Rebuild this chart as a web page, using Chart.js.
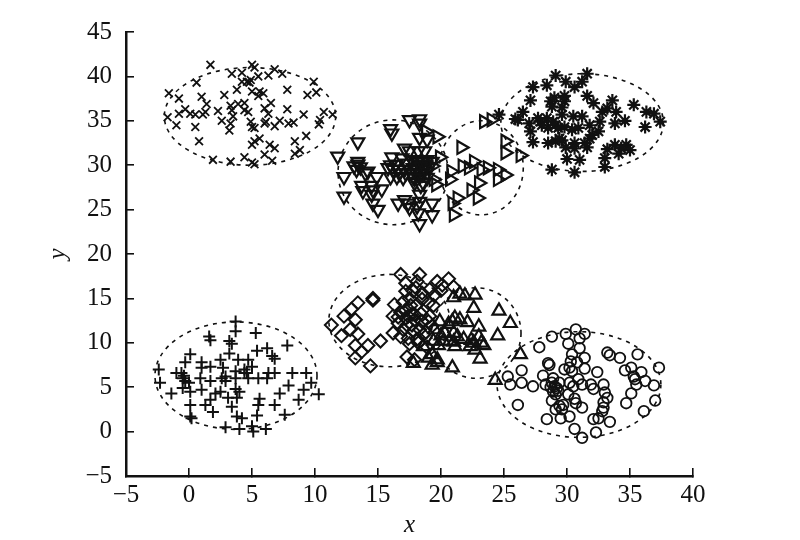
<!DOCTYPE html>
<html>
<head>
<meta charset="utf-8">
<title>Clusters</title>
<script src="https://cdn.jsdelivr.net/npm/chart.js@4"></script>
<style>
  html, body { margin: 0; padding: 0; background: #fff; }
  #wrap { width: 800px; height: 540px; }
</style>
</head>
<body>
<div id="wrap"><canvas id="myChart" width="800" height="540"></canvas></div>
<script>
const xTicks = [-5, 0, 5, 10, 15, 20, 25, 30, 35, 40]
const yTicks = [-5, 0, 5, 10, 15, 20, 25, 30, 35, 40, 45]

// x marks, top left cluster
const timesPoints = [
  [1.7,41.3],[5.0,41.3],[5.2,41.0],[3.4,40.3],[4.2,40.4],[5.5,40.0],[6.3,40.1],[6.8,40.8],[7.4,40.3],[0.6,39.3],
  [4.2,39.4],[4.6,39.4],[4.9,39.6],[4.8,39.3],[9.9,39.4],[7.8,38.5],[3.8,38.5],[5.0,38.3],[5.6,38.3],[5.9,38.1],
  [5.5,37.8],[9.4,37.9],[10.1,38.2],[-1.6,38.1],[-0.8,37.5],[1.0,37.7],[2.8,37.9],[1.4,36.9],[4.4,37.0],[3.9,36.9],
  [3.3,36.7],[6.5,37.0],[6.0,36.4],[-0.3,36.3],[-0.8,35.8],[0.1,35.8],[0.5,35.7],[1.1,35.7],[1.3,36.0],[2.3,36.1],
  [3.4,36.2],[3.5,35.5],[4.4,36.2],[4.7,36.0],[6.3,35.8],[7.8,36.3],[10.7,36.0],[11.4,35.7],[9.1,35.7],[-1.7,35.4],
  [-1.0,34.5],[2.6,35.0],[3.3,34.7],[3.2,33.9],[0.5,34.3],[4.9,34.9],[5.0,34.3],[5.2,34.2],[6.1,34.9],[6.0,34.7],
  [6.8,34.4],[7.2,35.0],[7.9,34.7],[8.3,34.8],[10.4,35.1],[10.3,34.6],[0.8,32.7],[9.3,33.3],[5.6,33.0],[5.2,32.7],
  [5.0,32.3],[6.4,32.3],[6.8,31.9],[8.4,32.7],[8.8,31.7],[8.4,31.3],[6.0,31.2],[1.9,30.6],[3.3,30.4],[4.4,30.9],
  [5.0,30.3],[5.2,30.1],[6.6,30.5]
]

const downPoints = [
  [17.5,35.1],[18.3,35.2],[18.3,34.7],[16.0,34.1],[16.1,33.6],[13.4,32.6],[18.3,33.1],[18.9,32.9],[11.8,31.0],[13.4,30.4],
  [13.4,30.1],[13.1,29.9],[13.3,29.5],[14.2,29.3],[12.3,28.7],[14.9,28.7],[12.3,26.5],[16.1,30.9],[17.1,31.9],[17.5,31.6],
  [18.2,31.6],[18.7,31.6],[19.3,30.4],[16.9,30.8],[15.8,29.7],[16.2,29.5],[16.6,29.5],[17.1,29.5],[17.7,30.6],[18.1,30.4],
  [18.5,30.4],[18.9,30.6],[17.8,29.7],[18.1,29.5],[18.5,29.5],[18.7,29.5],[19.0,29.7],[16.0,28.7],[16.5,28.7],[17.0,28.6],
  [17.8,28.7],[18.3,28.7],[18.9,28.6],[17.9,28.0],[18.6,28.0],[13.7,27.7],[14.5,27.7],[13.8,27.1],[14.6,27.2],[15.3,27.3],
  [14.5,26.7],[14.6,25.7],[15.0,25.0],[16.6,25.7],[17.4,25.7],[17.5,25.2],[18.3,26.7],[18.3,25.9],[17.1,26.1],[18.1,25.4],
  [19.3,25.7],[18.2,24.6],[19.3,24.4],[18.3,23.4],[17.3,30.2],[17.9,30.1],[18.4,29.9],[18.8,30.1],[17.6,29.2],[18.0,29.1],
  [18.5,29.0],[18.9,29.2],[17.9,28.5],[18.4,27.7],[16.4,30.1],[16.0,30.0],[17.2,29.1],[16.7,29.1],[13.6,29.8],[14.0,29.1]
]

const rightPoints = [
  [23.4,34.9],[24.0,35.1],[18.8,33.8],[19.7,33.2],[21.6,32.0],[25.1,32.7],[25.1,31.4],[26.3,31.1],[19.9,30.9],[19.3,29.9],
  [19.4,28.4],[19.6,27.8],[22.6,30.4],[20.8,29.3],[20.7,28.4],[21.7,29.9],[22.2,29.7],[23.2,29.5],[23.7,29.7],[24.5,29.5],
  [25.1,28.9],[24.5,28.4],[23.0,28.0],[22.4,27.2],[22.9,26.3],[21.3,26.3],[20.9,25.7],[21.0,24.4]
]

const starPoints = [
  [31.6,40.3],[29.1,40.1],[29.9,39.4],[31.2,39.4],[30.6,38.8],[28.4,39.0],[27.3,38.8],[24.6,35.7],[27.1,37.3],[31.6,37.8],
  [32.1,37.0],[29.8,37.8],[28.7,37.2],[33.6,37.3],[35.3,36.8],[26.5,36.0],[26.1,35.1],[25.9,35.2],[27.0,34.7],[27.7,35.3],
  [28.5,34.2],[28.4,35.3],[29.6,35.7],[30.5,35.5],[31.2,35.5],[29.1,34.5],[29.8,34.3],[30.4,34.0],[30.9,34.2],[31.8,34.5],
  [32.6,34.9],[32.8,36.0],[33.2,36.4],[33.9,36.0],[33.8,34.7],[34.6,35.0],[36.3,36.0],[36.9,35.8],[37.4,34.9],[36.2,34.3],
  [32.5,33.8],[31.8,33.0],[27.1,33.8],[27.3,32.6],[28.5,32.5],[29.1,32.7],[29.6,32.8],[30.6,32.5],[31.6,32.0],[29.9,32.0],
  [30.6,31.9],[30.0,30.7],[31.0,30.6],[33.8,32.3],[33.2,31.8],[34.7,32.3],[35.0,31.7],[34.1,31.3],[33.0,30.8],[33.0,29.8],
  [28.8,29.5],[30.6,29.2],[28.8,36.6],[29.8,37.2],[29.3,34.2],[27.9,34.9],[28.0,34.5],[28.9,34.9],[29.4,33.0],[31.4,32.5],
  [32.0,33.4],[34.3,31.9],[29.6,36.5],[29.0,37.6]
]

const diamondPoints = [
  [16.8,17.7],[18.3,17.7],[17.2,16.7],[18.1,16.9],[20.6,17.2],[20.1,16.5],[17.2,15.8],[17.8,15.8],[19.1,16.0],[18.5,15.6],
  [19.5,15.4],[17.5,15.0],[18.1,14.3],[19.0,14.5],[14.6,14.8],[14.6,15.0],[13.4,14.5],[12.9,13.8],[12.3,13.0],[13.2,12.6],
  [11.3,12.0],[12.8,11.5],[12.1,10.8],[13.4,11.0],[16.3,14.3],[16.8,13.4],[17.2,12.8],[16.2,13.0],[16.6,12.2],[17.3,12.0],
  [17.9,12.6],[19.1,13.0],[18.3,11.5],[17.8,11.3],[16.2,11.1],[16.8,10.7],[17.4,10.5],[18.1,10.4],[18.6,10.9],[14.2,9.7],
  [15.2,10.2],[13.2,9.7],[13.7,9.0],[13.2,8.3],[17.3,8.4],[14.4,7.4],[18.2,10.0],[17.9,13.2],[17.2,13.7],[17.7,13.2],
  [17.6,14.2],[17.0,14.6],[18.5,14.9],[19.4,14.2],[18.4,13.3],[17.4,13.0],[18.5,12.4],[19.3,11.9],[17.0,11.5],[17.7,12.0],
  [18.8,11.2],[19.0,12.4],[16.6,12.9],[17.5,9.9],[18.9,9.5],[17.9,8.1],[20.0,15.9],[19.7,16.9],[21.0,16.3],[18.0,16.2]
]

const upPoints = [
  [21.5,15.5],[22.7,15.4],[21.0,15.1],[22.6,13.9],[24.6,13.6],[21.1,12.8],[19.9,12.4],[20.9,12.4],[22.1,12.3],[23.0,11.8],
  [25.5,12.2],[19.5,11.5],[20.3,11.1],[21.3,10.7],[23.0,10.7],[24.5,10.8],[20.2,10.2],[20.7,10.2],[19.4,10.2],[18.6,9.6],
  [22.6,10.0],[23.2,10.0],[21.1,9.6],[22.3,9.6],[22.7,9.2],[23.1,8.2],[26.3,8.7],[19.3,8.7],[19.7,8.1],[17.8,7.7],
  [19.3,7.5],[20.9,7.2],[24.3,5.8],[21.9,15.3],[20.6,12.1],[21.5,12.6],[20.0,10.8],[21.0,11.1],[19.8,9.7],[21.8,10.4],
  [22.4,10.3],[23.4,9.7],[21.0,10.1],[19.7,7.8],[19.0,8.3]
]

const circlePoints = [
  [30.7,11.5],[31.4,11.0],[29.9,11.0],[28.8,10.7],[27.8,9.5],[31.0,10.5],[30.1,9.9],[31.0,9.4],[30.4,8.7],[31.4,8.3],
  [33.2,8.9],[33.4,8.6],[34.2,8.3],[35.6,8.7],[37.3,7.2],[26.4,6.9],[28.5,7.7],[28.6,7.5],[30.2,7.2],[30.4,6.8],
  [31.4,7.1],[29.8,7.0],[32.4,6.7],[34.6,6.9],[35.1,7.2],[35.9,6.7],[35.3,6.2],[35.4,5.9],[36.2,5.7],[36.9,5.2],
  [35.5,5.3],[25.3,6.2],[25.5,5.3],[26.4,5.5],[27.3,5.1],[28.1,6.3],[28.3,5.3],[28.8,5.5],[29.2,4.9],[28.9,4.5],
  [29.4,5.5],[30.2,5.5],[30.5,5.1],[31.2,5.3],[31.9,5.3],[32.1,4.8],[32.9,5.3],[33.2,3.8],[32.9,3.3],[35.1,4.3],
  [34.7,3.2],[37.0,3.5],[36.1,2.3],[26.1,3.0],[28.8,3.5],[30.6,3.7],[31.2,2.7],[29.1,4.2],[29.7,3.0],[29.1,2.5],
  [29.6,2.5],[30.2,1.7],[28.4,1.4],[29.5,1.5],[32.8,2.3],[32.5,1.5],[32.1,1.4],[33.4,1.1],[30.6,0.3],[32.3,-0.1],
  [31.2,-0.7],[29.0,5.1],[28.7,5.0],[29.3,4.6],[28.9,6.0],[30.1,4.2],[30.9,5.9],[29.4,2.9],[30.3,7.9],[30.8,7.8],
  [30.7,3.2],[33.0,4.4],[32.9,2.7]
]

const plusPoints = [
  [3.7,12.4],[3.7,11.3],[5.3,11.1],[1.6,10.7],[1.7,10.3],[3.2,10.2],[3.4,9.9],[5.4,9.1],[6.2,9.4],[7.8,9.7],
  [3.2,8.8],[0.1,8.7],[-0.3,7.8],[1.0,7.8],[2.5,8.1],[3.9,8.1],[4.7,8.1],[6.6,8.5],[6.8,8.2],[5.0,7.3],
  [-2.4,7.0],[-1.0,6.6],[-0.6,6.6],[-0.5,6.0],[1.7,7.3],[1.0,7.2],[2.7,7.2],[3.7,6.8],[4.4,7.0],[4.6,6.6],
  [6.3,6.6],[6.8,6.6],[8.2,6.6],[9.3,6.6],[-2.3,5.5],[-0.3,5.7],[0.9,6.0],[2.6,6.0],[2.9,5.7],[3.7,6.0],
  [4.7,6.0],[5.5,6.0],[6.2,6.0],[1.7,5.7],[-0.5,4.9],[7.9,5.2],[9.7,5.5],[-1.4,4.3],[0.1,4.5],[1.0,4.7],
  [2.5,4.5],[2.1,4.3],[3.7,4.8],[4.0,4.5],[7.2,4.3],[9.1,4.7],[10.3,4.2],[3.8,3.8],[3.1,3.8],[1.7,3.6],
  [8.7,3.6],[0.1,3.0],[1.3,3.0],[5.6,3.7],[5.5,3.0],[6.8,3.0],[3.4,2.8],[1.9,2.2],[0.1,1.7],[0.2,1.5],
  [3.8,1.7],[5.4,1.8],[4.2,1.5],[7.6,1.9],[2.9,0.5],[4.0,0.3],[5.0,0.6],[5.1,0.0],[6.1,0.3],[-0.4,6.3],
  [0.0,5.5],[2.9,6.2],[4.4,6.6]
]

// dashed cluster outlines, in data units
const ellipseCx = [4.84, 16.2, 23.2, 31.2, 15.9, 22.8, 30.95, 3.73]
const ellipseCy = [35.5, 29.2, 29.7, 34.8, 12.5, 11.1, 5.3, 6.3]
const ellipseRx = [6.8, 4.37, 3.33, 6.45, 4.8, 3.55, 6.5, 6.43]
const ellipseRy = [5.5, 5.9, 5.3, 5.5, 5.2, 5.1, 5.95, 6.05]

const ink = '#111'

function series(points, pointStyle, pointRadius, pointBorderWidth, pointRotation){
    return {
        data: points.map(p => ({x: p[0], y: p[1]})),
        showLine: false,
        pointStyle,
        pointRadius,
        pointRotation: pointRotation || 0,
        borderWidth: pointBorderWidth,
        borderColor: ink,
        backgroundColor: 'rgba(0,0,0,0)',
        clip: false
    }
}

const minus = v => String(v).replace('-', '\u2212')

const ellipses = {
    id: 'ellipses',
    beforeDatasetsDraw(chart){
        const {ctx, scales: {x, y}} = chart
        ctx.save()
        ctx.strokeStyle = ink
        ctx.lineWidth = 1.6
        ctx.setLineDash([4, 5])
        ellipseCx.forEach((cx, i) => {
            const px = x.getPixelForValue(cx)
            const py = y.getPixelForValue(ellipseCy[i])
            const rx = x.getPixelForValue(cx + ellipseRx[i]) - px
            const ry = py - y.getPixelForValue(ellipseCy[i] + ellipseRy[i])
            ctx.beginPath()
            ctx.ellipse(px, py, rx, ry, 0, 0, Math.PI * 2)
            ctx.stroke()
        })
        ctx.restore()
    }
}

const tickFont = {family: '"Liberation Serif"', size: 25}
const titleFont = {family: '"Liberation Serif"', size: 25, style: 'italic'}

new Chart(document.getElementById('myChart'), {
    type: 'scatter',
    data: {
        datasets: [
            series(timesPoints, 'crossRot', 5.5, 1.8),
            series(downPoints, 'triangle', 7.5, 2.2, 180),
            series(rightPoints, 'triangle', 7.5, 2.2, 90),
            series(starPoints, 'star', 6.5, 2.2),
            series(diamondPoints, 'rectRot', 6.5, 2),
            series(upPoints, 'triangle', 7.5, 2.2),
            series(circlePoints, 'circle', 5.3, 1.8),
            series(plusPoints, 'cross', 6, 2)
        ]
    },
    options: {
        responsive: false,
        animation: false,
        layout: {padding: {top: 32, right: 107, left: 0, bottom: 0}},
        plugins: {legend: {display: false}, tooltip: {enabled: false}},
        scales: {
            x: {
                type: 'linear',
                min: xTicks[0],
                max: xTicks[xTicks.length - 1],
                afterFit: s => { s.height = 64; s.paddingLeft = 0; s.paddingRight = 0 },
                afterBuildTicks: s => { s.ticks = xTicks.map(value => ({value})) },
                border: {color: ink, width: 2.5},
                grid: {drawOnChartArea: false, color: ink, lineWidth: 1.6, tickLength: -8},
                ticks: {color: ink, font: tickFont, padding: 12, maxRotation: 0, autoSkip: false, callback: minus},
                title: {display: true, text: 'x', color: ink, font: titleFont, padding: {top: 0, bottom: 0}}
            },
            y: {
                type: 'linear',
                min: yTicks[0],
                max: yTicks[yTicks.length - 1],
                // big tick padding would otherwise push the plot area down
                afterFit: s => { s.width = 126; s.paddingTop = 0; s.paddingBottom = 0 },
                afterBuildTicks: s => { s.ticks = yTicks.map(value => ({value})) },
                border: {color: ink, width: 2.5},
                grid: {drawOnChartArea: false, color: ink, lineWidth: 1.6, tickLength: -8},
                ticks: {color: ink, font: tickFont, padding: 22, autoSkip: false, callback: minus},
                title: {display: true, text: 'y', color: ink, font: titleFont, padding: {top: 43, bottom: 0}}
            }
        }
    },
    plugins: [ellipses]
})
</script>
</body>
</html>
